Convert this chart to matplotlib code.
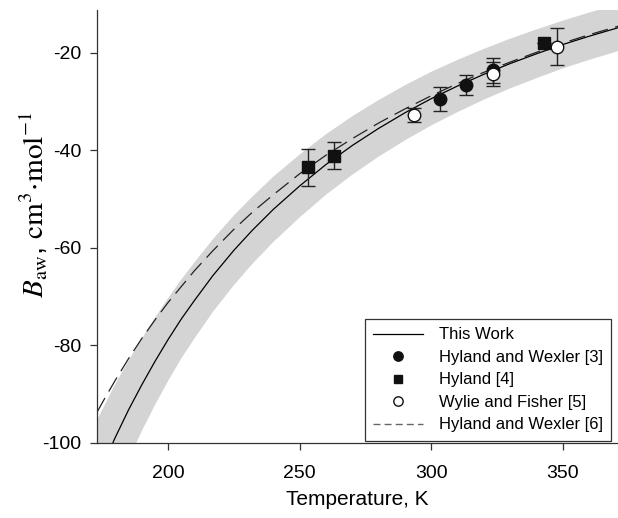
import numpy as np
import matplotlib
matplotlib.use('Agg')
import matplotlib.pyplot as plt

plt.rcParams['font.family'] = ['Liberation Sans', 'DejaVu Sans']
plt.rcParams['mathtext.fontset'] = 'stix'
plt.rcParams['axes.unicode_minus'] = False

# This Work curve and its uncertainty band
t_grid = [173, 176, 180, 185, 190, 195, 200, 205, 210, 217, 225, 232, 240, 250,
          260, 270, 280, 290, 300, 310, 320, 330, 340, 350, 360, 372]
b_this_work = [-107.5, -103.6, -98.8, -93.2, -88.1, -83.3, -78.8, -74.6, -70.8, -65.7,
               -60.5, -56.4, -52.1, -47.3, -42.9, -39.0, -35.5, -32.3, -29.4, -26.8,
               -24.4, -22.2, -20.2, -18.3, -16.6, -14.7]
band_upper = [-95.35, -92.1, -87.9, -83.1, -78.6, -74.35, -70.3, -66.5, -63.0, -58.25,
              -53.35, -49.5, -45.4, -40.85, -36.7, -33.0, -29.7, -26.65, -23.9, -21.45,
              -19.2, -17.1, -15.2, -13.4, -11.75, -9.9]
band_lower = [-119.65, -115.1, -109.7, -103.3, -97.6, -92.25, -87.3, -82.7, -78.6, -73.15,
              -67.65, -63.3, -58.8, -53.75, -49.1, -45.0, -41.3, -37.95, -34.9, -32.15,
              -29.6, -27.3, -25.2, -23.2, -21.45, -19.5]

# Hyland and Wexler [6] correlation
t_hw6 = [173, 176, 180, 185, 190, 195, 200, 210, 217, 225, 232, 240, 250, 260,
         270, 280, 290, 300, 310, 320, 330, 340, 350, 360, 372]
b_hw6 = [-93.7, -90.8, -87.1, -82.7, -78.6, -74.8, -71.2, -64.7, -60.6, -56.2, -52.7,
         -49.1, -44.8, -41.0, -37.6, -34.4, -31.5, -28.8, -26.3, -24.0, -21.9, -19.9,
         -18.0, -16.3, -14.4]

# experimental points
t_hw3 = [303.2, 313.2, 323.3]
b_hw3 = [-29.5, -26.6, -23.6]
e_hw3 = [2.4, 2.0, 2.5]

t_hy4 = [253.3, 263.2, 342.8]
b_hy4 = [-43.5, -41.1, -18.0]
e_hy4 = [3.8, 2.7, 0.0]

t_wf5 = [293.3, 323.3, 347.8]
b_wf5 = [-32.7, -24.4, -18.8]
e_wf5 = [1.4, 2.5, 3.8]

fig = plt.figure(figsize=(6.18, 5.18), dpi=100)
ax = fig.add_axes([0.157, 0.145, 0.843, 0.836])

ax.fill_between(t_grid, band_lower, band_upper, color='#d4d4d4', lw=0, zorder=1)
ax.plot(t_grid, b_this_work, color='k', lw=0.9, zorder=2, label='This Work')
ax.plot(t_hw6, b_hw6, color='#222222', lw=0.9, ls=(0, (13, 6)), zorder=2)

eb = dict(fmt='none', ecolor='#222222', elinewidth=1.0, capsize=5, capthick=1.0, zorder=3)
ax.errorbar(t_hw3, b_hw3, yerr=e_hw3, **eb)
ax.errorbar(t_hy4, b_hy4, yerr=e_hy4, **eb)
ax.errorbar(t_wf5, b_wf5, yerr=e_wf5, **eb)

ax.plot(t_hw3, b_hw3, 'o', ms=9, color='#111111', mec='#111111', zorder=4,
        label='Hyland and Wexler [3]')
ax.plot(t_hy4, b_hy4, 's', ms=8, color='#111111', mec='#111111', zorder=4,
        label='Hyland [4]')
ax.plot(t_wf5, b_wf5, 'o', ms=9, mfc='white', mec='#111111', mew=1.0, zorder=4,
        label='Wylie and Fisher [5]')
ax.plot([], [], color='#666666', lw=1.0, ls=(0, (5, 3)), label='Hyland and Wexler [6]')

ax.set_xlim(173.0, 370.9)
ax.set_ylim(-100, -11.2)
ax.set_xticks([200, 250, 300, 350])
ax.set_yticks([-100, -80, -60, -40, -20])

for s in ['top', 'right']:
    ax.spines[s].set_visible(False)
for s in ['left', 'bottom']:
    ax.spines[s].set_linewidth(0.9)
    ax.spines[s].set_color('#333333')
ax.tick_params(direction='out', length=5, width=0.9, labelsize=14, color='#333333', pad=11)
ax.tick_params(axis='y', pad=6)

ax.set_xlabel('Temperature, K', fontsize=15, labelpad=6)
ax.set_ylabel(r'$B_{\mathrm{aw}}$, $\mathrm{cm}^{3}\!\cdot\!\mathrm{mol}^{-1}$', fontsize=21)
ax.yaxis.set_label_coords(-0.09, 0.55)

leg = ax.legend(loc='lower right', bbox_to_anchor=(0.987, 0.005), fontsize=12,
                frameon=True, fancybox=False, edgecolor='#333333', framealpha=1,
                handlelength=3.0, handletextpad=0.95, borderpad=0.5, labelspacing=0.45,
                borderaxespad=0, markerscale=0.75)
leg.get_frame().set_linewidth(0.9)

fig.savefig('out.png', dpi=100)
